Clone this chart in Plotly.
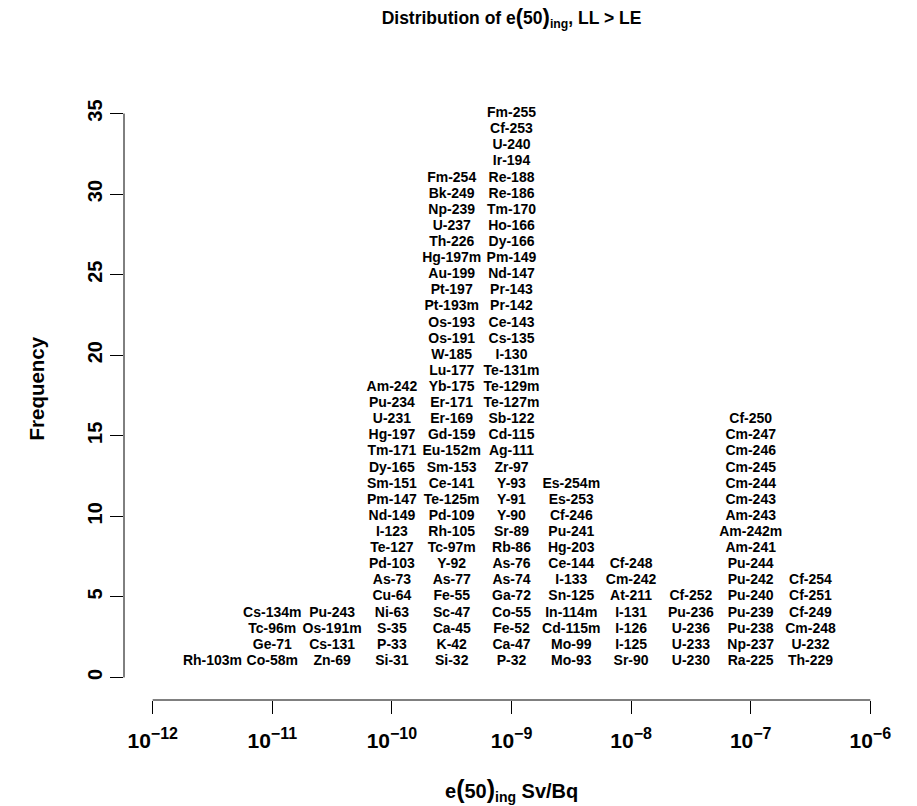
import plotly.graph_objects as go

# log10 bin centres (Sv/Bq) and the nuclides stacked in each bin, bottom to top
bin_centres = [-11.5, -11.0, -10.5, -10.0, -9.5, -9.0, -8.5, -8.0, -7.5, -7.0, -6.5]

bin_m115 = ["Rh-103m"]
bin_m110 = ["Co-58m", "Ge-71", "Tc-96m", "Cs-134m"]
bin_m105 = ["Zn-69", "Cs-131", "Os-191m", "Pu-243"]
bin_m100 = ["Si-31", "P-33", "S-35", "Ni-63", "Cu-64", "As-73", "Pd-103", "Te-127",
            "I-123", "Nd-149", "Pm-147", "Sm-151", "Dy-165", "Tm-171", "Hg-197",
            "U-231", "Pu-234", "Am-242"]
bin_m095 = ["Si-32", "K-42", "Ca-45", "Sc-47", "Fe-55", "As-77", "Y-92", "Tc-97m",
            "Rh-105", "Pd-109", "Te-125m", "Ce-141", "Sm-153", "Eu-152m", "Gd-159",
            "Er-169", "Er-171", "Yb-175", "Lu-177", "W-185", "Os-191", "Os-193",
            "Pt-193m", "Pt-197", "Au-199", "Hg-197m", "Th-226", "U-237", "Np-239",
            "Bk-249", "Fm-254"]
bin_m090 = ["P-32", "Ca-47", "Fe-52", "Co-55", "Ga-72", "As-74", "As-76", "Rb-86",
            "Sr-89", "Y-90", "Y-91", "Y-93", "Zr-97", "Ag-111", "Cd-115", "Sb-122",
            "Te-127m", "Te-129m", "Te-131m", "I-130", "Cs-135", "Ce-143", "Pr-142",
            "Pr-143", "Nd-147", "Pm-149", "Dy-166", "Ho-166", "Tm-170", "Re-186",
            "Re-188", "Ir-194", "U-240", "Cf-253", "Fm-255"]
bin_m085 = ["Mo-93", "Mo-99", "Cd-115m", "In-114m", "Sn-125", "I-133", "Ce-144",
            "Hg-203", "Pu-241", "Cf-246", "Es-253", "Es-254m"]
bin_m080 = ["Sr-90", "I-125", "I-126", "I-131", "At-211", "Cm-242", "Cf-248"]
bin_m075 = ["U-230", "U-233", "U-236", "Pu-236", "Cf-252"]
bin_m070 = ["Ra-225", "Np-237", "Pu-238", "Pu-239", "Pu-240", "Pu-242", "Pu-244",
            "Am-241", "Am-242m", "Am-243", "Cm-243", "Cm-244", "Cm-245", "Cm-246",
            "Cm-247", "Cf-250"]
bin_m065 = ["Th-229", "U-232", "Cm-248", "Cf-249", "Cf-251", "Cf-254"]

bins = [bin_m115, bin_m110, bin_m105, bin_m100, bin_m095, bin_m090,
        bin_m085, bin_m080, bin_m075, bin_m070, bin_m065]

x_ticks = [-12, -11, -10, -9, -8, -7, -6]
x_ticktext = ["<b>10<sup><span style='font-size:16px'>\u2212%d</span></sup></b>" % (-t)
              for t in x_ticks]
y_ticks = [0, 5, 10, 15, 20, 25, 30, 35]
y_ticktext = ["<b>%d</b>" % t for t in y_ticks]

xs, ys, labels = [], [], []
for c, names in zip(bin_centres, bins):
    for i, n in enumerate(names):
        xs.append(c)
        ys.append(i + 1)
        labels.append(n)

FONT = "Liberation Sans, Arial, Helvetica, sans-serif"

fig = go.Figure()
fig.add_trace(go.Scatter(
    x=xs, y=ys, text=labels, mode="text",
    textposition="middle center",
    textfont=dict(family=FONT, size=14, color="black", weight="bold"),
    hoverinfo="text", showlegend=False,
))

fig.update_layout(
    width=917, height=806,
    margin=dict(l=124, r=18, t=91, b=106),
    paper_bgcolor="white", plot_bgcolor="white",
    font=dict(family=FONT, color="black"),
    title=dict(
        text="<b>Distribution of e<span style='font-size:22px'>(</span>50"
             "<span style='font-size:22px'>)</span><sub>ing</sub>, LL &gt; LE</b>",
        x=0.5, xref="paper", xanchor="center",
        y=1 - 18 / 806, yref="container", yanchor="middle",
        font=dict(size=17.5, family=FONT, color="black"),
    ),
    xaxis=dict(
        range=[-12.24, -5.76], showgrid=False, zeroline=False, showline=False,
        tickmode="array", tickvals=x_ticks, ticktext=x_ticktext,
        ticks="outside", ticklen=13, tickwidth=1, tickcolor="black",
        tickfont=dict(size=21, family=FONT, color="black"),
        ticklabelstandoff=9,
    ),
    yaxis=dict(
        range=[-1.4, 36.4], showgrid=False, zeroline=False, showline=False,
        tickmode="array", tickvals=y_ticks, ticktext=y_ticktext,
        ticks="outside", ticklen=13, tickwidth=1, tickcolor="black",
        tickangle=-90,
        tickfont=dict(size=20, family=FONT, color="black"),
        ticklabelstandoff=0,
    ),
    shapes=[
        dict(type="line", xref="x", yref="paper", x0=-12, x1=-6, y0=0, y1=0,
             line=dict(color="black", width=1)),
        dict(type="line", xref="paper", yref="y", x0=0, x1=0, y0=0, y1=35,
             line=dict(color="black", width=1)),
    ],
    annotations=[
        dict(text="<b>e<span style='font-size:25px'>(</span>50"
                  "<span style='font-size:25px'>)</span><sub>ing</sub> Sv/Bq</b>",
             xref="paper", yref="paper", x=0.5, y=-(790 - 700) / 609,
             xanchor="center", yanchor="middle", showarrow=False,
             font=dict(size=20, family=FONT, color="black")),
        dict(text="<b>Frequency</b>", textangle=-90,
             xref="paper", yref="paper", x=-(124 - 36) / 775, y=0.5 + 7 / 609,
             xanchor="center", yanchor="middle", showarrow=False,
             font=dict(size=20.5, family=FONT, color="black")),
    ],
)

fig.write_html("out.html")
